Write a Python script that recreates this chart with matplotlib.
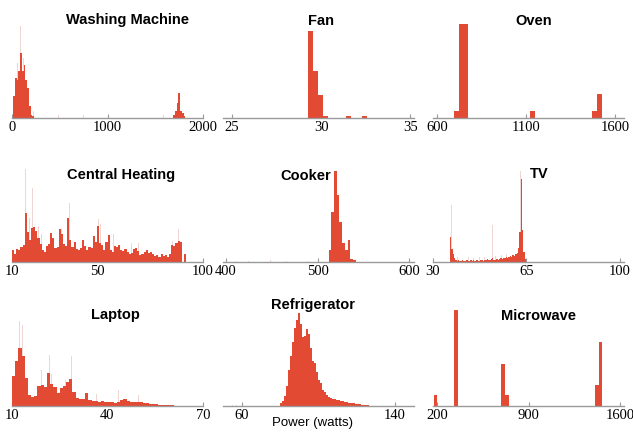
import numpy as np
import matplotlib.pyplot as plt

# ---- data (bar heights are relative counts) ----
titles = ['Washing Machine', 'Fan', 'Oven',
          'Central Heating', 'Cooker', 'TV',
          'Laptop', 'Refrigerator', 'Microwave']

# Washing Machine
wash_left = [14, 32, 50, 68, 86, 104, 122, 140, 158, 176, 194, 212,
             1689, 1707, 1725, 1743, 1761, 1779, 1797]
wash_counts = [22, 40, 38, 47, 65, 47, 53, 38, 30, 12, 3, 2,
               3, 7, 15, 25, 7, 5, 2]
wash_spike_x = [60, 92, 122, 156, 228, 483, 555, 745, 942, 1583, 1748]
wash_spike_h = [55, 92, 60, 48, 7, 3, 3, 3, 3, 3, 35]

# Fan
fan_left = [29.25, 29.53, 29.81, 30.09, 31.4, 32.3, 33.85]
fan_counts = [87, 47, 23, 2, 2, 2, 0.5]

# Oven
oven_left = [696, 722, 748, 1124, 1472, 1498]
oven_counts = [7, 94, 94, 7, 7, 24]

# Central Heating (1 W bins starting at 10 W)
heat_left = np.arange(10, 93)
heat_counts = [12, 8, 13, 12, 15, 17, 49, 30, 22, 34, 35, 31, 24, 18, 12, 10,
               16, 18, 29, 24, 14, 15, 33, 28, 18, 16, 44, 22, 15, 20, 13, 12,
               14, 22, 16, 12, 15, 14, 26, 20, 36, 19, 17, 12, 20, 27, 12, 10,
               16, 15, 17, 12, 11, 13, 10, 8, 9, 13, 14, 11, 7, 8, 10, 12,
               9, 10, 8, 6, 7, 5, 8, 6, 7, 5, 8, 17, 16, 19, 21, 20, 0, 8, 0]
heat_spike_x = [16.4, 18.2, 19.7, 22.4, 24.0, 33.4, 37.0, 43.9, 50.7, 51.8,
                57.8, 66.4, 69.5, 76.9, 85.7, 88.4, 92.0]
heat_spike_h = [93, 44, 74, 36, 28, 33, 59, 33, 43, 38, 28, 19, 19, 18, 21, 33, 9]

# Cooker
cook_left = [512.0, 514.9, 517.9, 520.8, 523.8, 526.7, 529.7, 532.6, 535.6, 538.5]
cook_counts = [12, 50, 91, 67, 40, 19, 12, 22, 3, 2]
cook_spike_x = [411, 425, 446, 449, 466, 490]
cook_spike_h = [1, 1, 2, 2, 1, 1]

# TV (0.51 W bins starting at 36.3 W)
tv_left = np.arange(36.3, 36.3 + 56 * 0.51 - 0.01, 0.51)
tv_counts = [25, 13, 8, 4, 2, 1, 2, 1, 1, 2, 1, 1, 2, 1, 1, 2, 1, 2, 1, 2,
             2, 1, 2, 2, 1, 2, 2, 3, 2, 2, 3, 4, 2, 2, 3, 2, 3, 4, 3, 4,
             4, 5, 4, 5, 6, 5, 7, 6, 8, 9, 14, 30, 83, 32, 10, 3]
tv_spike_x = [36.33, 36.84, 37.35, 39.19, 41.23, 43.27, 45.3, 47.36, 49.4,
              52.36, 53.48, 55.5, 57.57, 59.6, 61.1, 62.88, 63.29]
tv_spike_h = [92, 57, 10, 5, 4, 5, 4, 5, 5, 37, 6, 7, 8, 12, 15, 91, 45]

# Laptop (1 W bins starting at 10 W)
lap_left = np.arange(10, 66)
lap_counts = [30, 45, 58, 50, 28, 11, 9, 10, 20, 21, 19, 33, 22, 19, 13, 18,
              20, 24, 27, 14, 8, 7, 7, 13, 6, 5, 5, 4, 5, 4, 4, 4, 3, 4, 6, 7,
              5, 4, 4, 4, 4, 3, 3, 2, 2, 2, 1.5, 1.5, 1.2, 1, 0.6, 0.5, 0.5,
              0.4, 0.3, 0.3]
lap_spike_x = [12.3, 13.4, 19.3, 21.7, 22.5, 26.9, 28.7, 36.6, 43.4, 49.7]
lap_spike_h = [85, 81, 36, 51, 32, 26, 50, 12, 16, 11]

# Refrigerator (1.05 W bins starting at 80 W)
fridge_left = np.arange(80.0, 80.0 + 45 * 1.05 - 0.01, 1.05)
fridge_counts = [3, 5, 10, 20, 36, 50, 64, 78, 86, 93, 82, 69, 70, 77, 72,
                 58, 45, 43, 34, 26, 23, 16, 14, 11, 9, 8, 7, 7, 6, 6, 5, 5,
                 4, 4, 3, 3, 3, 2, 2, 2, 1.5, 1, 1, 1, 0.5]
fridge_spike_x = [55, 57, 70]
fridge_spike_h = [1, 1, 0.5]

# Microwave
micro_left = [174, 332, 692, 720, 1408, 1437]
micro_counts = [11, 96, 42, 11, 21, 64]

# x axis ranges, ticks and tick labels
xlims = [(0, 2000), (24.5, 35.2), (578, 1650),
         (10, 100), (397, 605), (30, 101.5),
         (10, 70), (50, 150), (169, 1631)]
xticks = [[0, 1000, 2000], [25, 30, 35], [600, 1100, 1600],
          [10, 50, 100], [400, 500, 600], [30, 65, 100],
          [10, 40, 70], [60, 100, 140], [200, 900, 1600]]
xticklabels = [['0', '1000', '2000'], ['25', '30', '35'], ['600', '1100', '1600'],
               ['10', '50', '100'], ['400', '500', '600'], ['30', '65', '100'],
               ['10', '40', '70'], ['60', '', '140'], ['200', '900', '1600']]

bars = [(wash_left, wash_counts, 18), (fan_left, fan_counts, 0.28),
        (oven_left, oven_counts, 26), (heat_left, heat_counts, 1),
        (cook_left, cook_counts, 2.95), (tv_left, tv_counts, 0.51),
        (lap_left, lap_counts, 1), (fridge_left, fridge_counts, 1.05),
        (micro_left, micro_counts, 29)]
spikes = [(wash_spike_x, wash_spike_h, 8), None, None,
          (heat_spike_x, heat_spike_h, 0.35), (cook_spike_x, cook_spike_h, 1),
          (tv_spike_x, tv_spike_h, 0.3), (lap_spike_x, lap_spike_h, 0.25),
          (fridge_spike_x, fridge_spike_h, 0.6), None]

# ---- layout (pixels in a 633x432 figure) ----
W, H = 633, 432
col_left = [12, 223, 433]
row_base = [118, 262, 406]
title_pos = [(127, 24), (321, 25), (534, 25),
             (121, 179), (306, 180), (539, 178),
             (115, 319), (313, 309), (539, 320)]

red = '#E24A33'
pale = '#F0D6D2'

# serif tick labels, bold sans titles
plt.rcParams['font.family'] = 'serif'
plt.rcParams['font.serif'] = ['Liberation Serif', 'DejaVu Serif']
title_font = ['Liberation Sans', 'DejaVu Sans']

fig = plt.figure(figsize=(W / 100, H / 100), dpi=100)

for i in range(9):
    r, c = divmod(i, 3)
    ax = fig.add_axes([col_left[c] / W, (H - row_base[r]) / H, 191 / W, 97 / H])

    # faint thin spikes behind the main bars
    if spikes[i] is not None:
        sx, sh, sw = spikes[i]
        ax.bar(sx, sh, width=sw, color=pale, linewidth=0, zorder=1)
    left, counts, bw = bars[i]
    ax.bar(left, counts, width=bw, align='edge', color=red, linewidth=0, zorder=2)

    ax.set_xlim(*xlims[i])
    ax.set_ylim(0, 97)
    ax.set_yticks([])
    ax.set_xticks(xticks[i])
    ax.set_xticklabels(xticklabels[i], fontsize=10.5)
    ax.tick_params(axis='x', direction='in', length=3, width=0.8,
                   color='#999999', pad=2)
    for side in ['top', 'left', 'right']:
        ax.spines[side].set_visible(False)
    ax.spines['bottom'].set_color('#999999')
    ax.spines['bottom'].set_linewidth(1)
    ax.patch.set_alpha(0)

    tx, ty = title_pos[i]
    fig.text(tx / W, 1 - ty / H, titles[i], ha='center', va='baseline',
             family=title_font, fontweight='bold', fontsize=10.5)

# shared x label under the middle bottom panel
fig.text(313 / W, 1 - 426 / H, 'Power (watts)', ha='center', va='baseline',
         family=title_font, fontsize=9.5)

fig.savefig('out.png', dpi=100)
